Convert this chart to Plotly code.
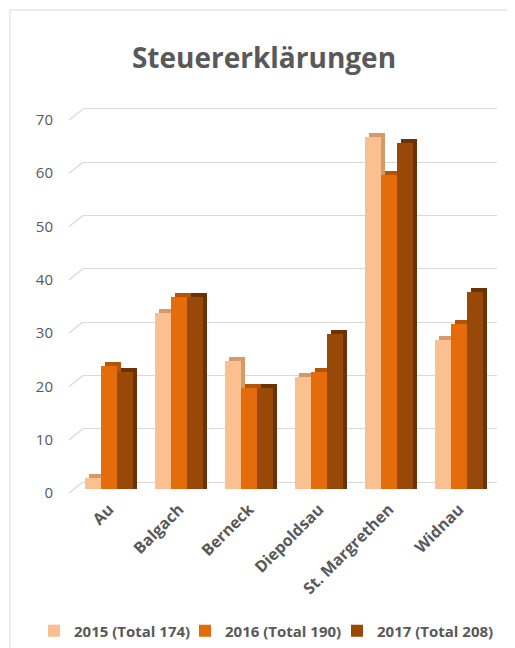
import plotly.graph_objects as go

categories = ["Au", "Balgach", "Berneck", "Diepoldsau", "St. Margrethen", "Widnau"]
series_names = ["2015 (Total 174)", "2016 (Total 190)", "2017 (Total 208)"]
values_2015 = [2, 33, 24, 21, 66, 28]
values_2016 = [23, 36, 19, 22, 59, 31]
values_2017 = [22, 36, 19, 29, 65, 37]
y_ticks = [0, 10, 20, 30, 40, 50, 60, 70]

front_colors = ["#FAC090", "#E46C0A", "#984807"]
side_colors = ["#D49A68", "#B35507", "#6A3205"]

FONT = "Open Sans, Lato, Liberation Sans, sans-serif"
GRAY = "#595959"
GRID = "#D9D9D9"

# the page body adds an 8px margin; lay the figure out in window pixels minus that
O = 8
W, H = 515 - O, 648 - O


def fx(px):
    return px - O


s = 5.33                   # pixels per unit
below = 7                  # plot area extends this many px under the bars' base
L = fx(83)
R = W - fx(497)
T = fx(104)
base_px = fx(489)          # pixel row of value 0 for the bars
B = H - base_px - below
pw = W - L - R
ph = H - T - B
y_lo = -below / s
y_hi = y_lo + ph / s
grid_shift = 7.0           # back-wall gridlines sit higher than the bars' plane
label_shift = 4.0          # value labels sit on the front plane, lower
px_per_cat = 70.0
first_center_px = fx(109)
x_lo = -(first_center_px - L) / px_per_cat
x_hi = x_lo + pw / px_per_cat

bar_w = 16 / px_per_cat
depth_x = 4 / px_per_cat
depth_y = 4 / s

all_values = [values_2015, values_2016, values_2017]
legend_ids = ["legend", "legend2", "legend3"]
fig = go.Figure()

# depth (3D side/top) faces
for i, vals in enumerate(all_values):
    off = -1.5 * bar_w + i * bar_w + depth_x
    fig.add_trace(go.Bar(
        x=categories, y=[v + depth_y for v in vals], width=bar_w, offset=off,
        marker=dict(color=side_colors[i], line=dict(width=0)),
        showlegend=False, hoverinfo="skip"))

# front faces
for i, vals in enumerate(all_values):
    off = -1.5 * bar_w + i * bar_w
    fig.add_trace(go.Bar(
        x=categories, y=vals, width=bar_w, offset=off, name=series_names[i],
        legend=legend_ids[i],
        marker=dict(color=front_colors[i], line=dict(width=0))))

# invisible traces to activate the gridline axis and the label axis
for ax in ["y2", "y3"]:
    fig.add_trace(go.Scatter(x=[categories[0]], y=[None], yaxis=ax, showlegend=False,
                             hoverinfo="skip", mode="markers"))

shapes = [dict(type="rect", xref="paper", yref="paper",
               x0=(fx(10) - L) / pw, x1=(W + 20 - L) / pw,
               y0=-(H + 20 - T - ph) / ph, y1=(T + ph - fx(10)) / ph,
               line=dict(color=GRID, width=1), fillcolor="rgba(0,0,0,0)", layer="below")]
for v in y_ticks:
    shapes.append(dict(type="line", xref="paper", yref="y",
                       x0=-14 / pw, x1=0, y0=v - label_shift / s, y1=v + grid_shift / s,
                       line=dict(color=GRID, width=1.3), layer="below"))

legend_sym_px = [53, 204, 356]
legend_common = dict(orientation="h", xref="container", yref="container",
                     xanchor="left", y=1 - fx(631) / H, yanchor="middle",
                     font=dict(family=FONT, size=15, color=GRAY, weight="bold"),
                     itemwidth=30, bgcolor="rgba(0,0,0,0)")

fig.update_layout(
    width=W, height=H,
    margin=dict(l=L, r=R, t=T, b=B),
    paper_bgcolor="white", plot_bgcolor="white",
    barmode="overlay",
    title=dict(text="<b>Steuererklärungen</b>", x=fx(264) / W, xanchor="center",
               y=1 - fx(58) / H, yanchor="middle",
               font=dict(family=FONT, size=28, color=GRAY)),
    font=dict(family=FONT, color=GRAY),
    xaxis=dict(type="category", range=[x_lo, x_hi], tickangle=-45, showgrid=False,
               showline=False, ticks="", ticklabelstandoff=0,
               tickfont=dict(size=16, color=GRAY, weight="bold"),
               categoryorder="array", categoryarray=categories),
    yaxis=dict(range=[y_lo, y_hi], showticklabels=False, showgrid=False, zeroline=False,
               showline=False, ticks=""),
    yaxis2=dict(overlaying="y", range=[y_lo - grid_shift / s, y_hi - grid_shift / s],
                tickvals=y_ticks, showticklabels=False, showgrid=True,
                gridcolor=GRID, gridwidth=1.3, zeroline=False, showline=False,
                ticks="", layer="below traces"),
    yaxis3=dict(overlaying="y", side="left",
                range=[y_lo + label_shift / s, y_hi + label_shift / s],
                tickvals=y_ticks, showgrid=False, zeroline=False, showline=False,
                ticks="", ticklabelstandoff=29,
                tickfont=dict(size=15, color=GRAY)),
    legend=dict(legend_common, x=fx(legend_sym_px[0] - 19) / W),
    legend2=dict(legend_common, x=fx(legend_sym_px[1] - 19) / W),
    legend3=dict(legend_common, x=fx(legend_sym_px[2] - 19) / W),
    shapes=shapes,
    bargap=0,
)

fig.write_html("out.html")
